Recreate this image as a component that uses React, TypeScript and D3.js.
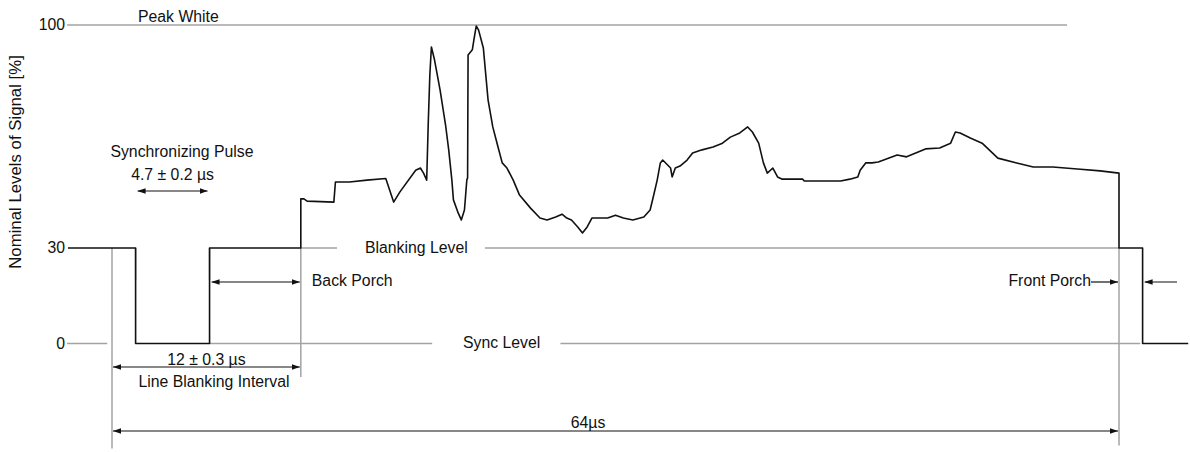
import React from 'react';
import * as d3 from 'd3';

const WIDTH = 1190;
const HEIGHT = 452;

// one TV line: time in µs (0 = start of line blanking), level in % of nominal signal
const signalTime = [
  -2.8, 1.5, 1.5, 6.2, 6.2, 12, 12, 12.2, 12.4, 14.1, 14.2, 15.1, 16.2, 17.4, 17.9, 18.3,
  19.3, 19.6, 19.8, 20.0, 20.1, 20.2, 20.3, 20.5, 20.85, 21.2, 21.4, 21.6, 21.7, 22.0, 22.2,
  22.4, 22.55, 22.6, 22.63, 22.9, 23.0, 23.15, 23.3, 23.6, 23.9, 24.2, 24.5, 24.8, 25.1,
  25.5, 25.9, 26.6, 27.2, 27.65, 28.2, 28.6, 28.9, 29.2, 29.6, 29.9, 30.2, 30.5, 31.5, 32.0,
  32.5, 33.1, 33.8, 34.2, 34.4, 34.65, 34.85, 35.0, 35.5, 35.6, 35.8, 36.1, 36.55, 36.9,
  37.5, 38.2, 38.8, 39.3, 39.9, 40.4, 40.7, 41.1, 41.4, 41.65, 42.0, 42.3, 42.6, 43.9, 44.0,
  46.3, 46.9, 47.4, 47.55, 47.9, 48.3, 48.7, 49.9, 50.5, 51.7, 52.6, 53.3, 53.6, 53.9, 54.55,
  55.3, 56.3, 57.5, 58.55, 59.8, 61.35, 62.8, 64, 64, 65.5, 65.5, 68.4,
];
const signalLevel = [
  30, 30, 0, 0, 30, 30, 45.4, 45.4, 44.7, 44.4, 50.7, 50.7, 51.3, 51.8, 44.4, 47.6,
  54.4, 55.1, 53.5, 51.3, 69.2, 84.3, 93.1, 89.0, 79.6, 68.6, 60.8, 51.3, 45.1, 41.0, 38.8,
  41.9, 51.3, 52, 90.6, 92.2, 95.3, 99.7, 98.4, 92.8, 76.5, 68.0, 62.3, 56.7, 55.1,
  51.3, 46.6, 42.5, 39.4, 38.8, 39.7, 40.6, 39.4, 38.8, 36.6, 34.7, 36.6, 39.4, 39.4, 40.3,
  39.4, 38.8, 39.7, 41.9, 46.0, 51.3, 56.7, 57.6, 55.1, 52.3, 55.1, 55.7, 57.6, 59.8,
  60.8, 61.7, 62.9, 64.8, 66.1, 68.0, 66.4, 62.9, 56.7, 53.5, 55.1, 52.3, 51.6, 51.6, 51.0,
  51.0, 51.6, 52.3, 54.4, 56.7, 56.7, 57.0, 59.2, 58.6, 61.1, 61.4, 62.9, 66.4, 66.1, 64.5,
  62.9, 58.2, 56.7, 55.4, 55.4, 54.8, 54.2, 53.5, 30, 30, 0, 0,
];

const levelTicks = [0, 30, 100];
// grey reference lines: [level, from µs, to µs]
const levelLines = [
  [100, -2.86, 60.7],
  [30, 12, 14.3],
  [30, 23.7, 64],
  [0, -2.86, -0.3],
  [0, 6.2, 20.35],
  [0, 28.5, 65.35],
];
// vertical timing lines: [time µs, from level, to level]
const timingLines = [
  [0, 30, -33],
  [1.5, 20, 30],
  [6.2, 20, 30],
  [12, 30, -10.5],
  [64, 30, -32],
];

export default function App() {
  const x = d3.scaleLinear().domain([0, 64]).range([112, 1119]);
  const y = d3.scaleLinear().domain([0, 100]).range([343.5, 25]);
  const line = d3
    .line<number>()
    .x((d) => x(d))
    .y((_, i) => y(signalLevel[i]));

  const grey = '#a3a3a3';
  const ink = '#111';
  const font = { fontFamily: 'Liberation Sans, Arial, sans-serif', fontSize: 15.8, fill: ink };

  const arrow = (x1: number, x2: number, yy: number, both = true) => (
    <line
      x1={x1}
      x2={x2}
      y1={yy}
      y2={yy}
      stroke={ink}
      strokeWidth={1.2}
      markerEnd="url(#ah)"
      markerStart={both ? 'url(#ah)' : undefined}
    />
  );

  return (
    <svg width={WIDTH} height={HEIGHT} style={{ position: 'absolute', left: 0, top: 0, background: '#fff' }}>
      <defs>
        <marker id="ah" viewBox="0 0 10 10" refX="10" refY="5" markerWidth="8" markerHeight="8"
          markerUnits="userSpaceOnUse" orient="auto-start-reverse">
          <path d="M0,1.5L10,5L0,8.5Z" fill={ink} />
        </marker>
      </defs>

      {levelLines.map(([lv, a, b], i) => (
        <line key={'l' + i} x1={x(a)} x2={x(b)} y1={y(lv)} y2={y(lv)} stroke={grey} strokeWidth={1.5} />
      ))}
      {timingLines.map(([t, a, b], i) => (
        <line key={'t' + i} x1={x(t)} x2={x(t)} y1={y(a)} y2={y(b)} stroke={grey} strokeWidth={1.5} />
      ))}

      <path d={line(signalTime) || ''} fill="none" stroke={ink} strokeWidth={1.6} strokeLinejoin="round" />

      {levelTicks.map((v) => (
        <text key={v} x={65} y={y(v) + 5} textAnchor="end" {...font}>{v}</text>
      ))}
      <text transform="translate(21,162) rotate(-90)" textAnchor="middle" {...font} fontSize={16.8}>
        Nominal Levels of Signal [%]
      </text>

      <text x={138} y={22} {...font}>Peak White</text>
      <text x={365} y={y(30) + 5} {...font}>Blanking Level</text>
      <text x={463} y={y(0) + 4} {...font}>Sync Level</text>

      <text x={182} y={157} textAnchor="middle" {...font}>Synchronizing Pulse</text>
      <text x={(x(1.5) + x(6.2)) / 2} y={180} textAnchor="middle" {...font}>4.7 ± 0.2 µs</text>
      {arrow(x(1.5) + 2, x(6.2) - 2, 191)}

      {arrow(x(6.2) + 2, x(12) - 1, 282)}
      <text x={x(12) + 11} y={286} {...font}>Back Porch</text>

      <text x={(x(0) + x(12)) / 2} y={365} textAnchor="middle" {...font}>12 ± 0.3 µs</text>
      {arrow(x(0) + 1, x(12) - 1, 367)}
      <text x={214} y={387} textAnchor="middle" {...font}>Line Blanking Interval</text>

      <text x={588} y={428} textAnchor="middle" {...font}>64µs</text>
      {arrow(x(0) + 1, x(64) - 1, 431)}

      <text x={1091} y={286} textAnchor="end" {...font}>Front Porch</text>
      {arrow(1091, x(64) - 1, 282, false)}
      {arrow(1177, x(65.5) + 2, 282, false)}
    </svg>
  );
}
